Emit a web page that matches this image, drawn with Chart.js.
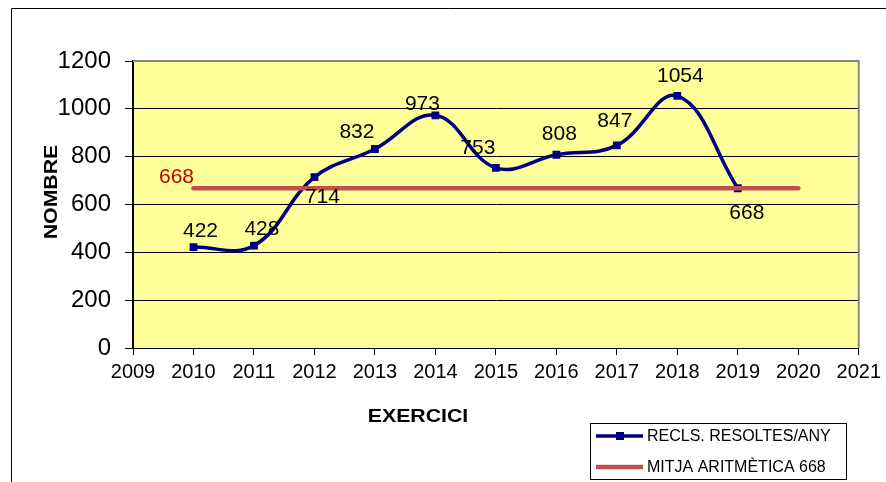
<!DOCTYPE html>
<html>
<head>
<meta charset="utf-8">
<script src="https://cdn.jsdelivr.net/npm/chart.js@4.4.1/dist/chart.umd.min.js"></script>
<style>
  html, body { margin: 0; padding: 0; background: #fff; }
  #wrap { width: 886px; height: 482px; }
</style>
</head>
<body>
<div id="wrap"><canvas id="chart" width="886" height="482"></canvas></div>
<script>
// data
const years = [2010, 2011, 2012, 2013, 2014, 2015, 2016, 2017, 2018, 2019];
const resolved = [422, 428, 714, 832, 973, 753, 808, 847, 1054, 668];
const meanYears = [2010, 2020];
const meanValue = 668;
const seriesNames = ['RECLS. RESOLTES/ANY', 'MITJA ARITMÈTICA 668'];
const xTitle = 'EXERCICI';
const yTitle = 'NOMBRE';

// where each value label sits relative to its point (px)
const labelDx = [7, 8, 8, -18, -13, -18, 3, -2, 3, 9];
const labelDy = [-16, -16, 20, -17, -11, -20, -21, -24, -20, 25];

const BLUE = '#000080';
const RED = '#C0504D';
const FONT = '"Liberation Sans", Arial, sans-serif';

// yellow plot area, frame lines, axis titles, legend
const framePlugin = {
  id: 'frame',
  beforeDraw(chart) {
    const { ctx, chartArea: a } = chart;
    ctx.save();
    ctx.fillStyle = '#fff';
    ctx.fillRect(0, 0, chart.width, chart.height);
    ctx.fillStyle = '#FFFF99';
    ctx.fillRect(a.left, a.top, a.right - a.left, a.bottom - a.top);
    // outer chart border
    ctx.strokeStyle = '#000';
    ctx.lineWidth = 1;
    ctx.beginPath();
    ctx.moveTo(11.5, chart.height);
    ctx.lineTo(11.5, 8.5);
    ctx.lineTo(chart.width, 8.5);
    ctx.stroke();
    ctx.restore();
  },
  afterDraw(chart) {
    const { ctx, chartArea: a } = chart;
    ctx.save();
    ctx.strokeStyle = '#888';
    ctx.lineWidth = 2;
    ctx.beginPath();
    ctx.moveTo(a.left, a.top);
    ctx.lineTo(a.right, a.top);
    ctx.lineTo(a.right, a.bottom);
    ctx.stroke();

    // axis titles (slightly wide, like the original)
    ctx.fillStyle = '#000';
    ctx.font = 'bold 19px ' + FONT;
    ctx.textAlign = 'center';
    ctx.textBaseline = 'middle';
    ctx.translate(418, 417);
    ctx.scale(1.12, 1);
    ctx.fillText(xTitle, 0, 0);
    ctx.setTransform(1, 0, 0, 1, 0, 0);
    ctx.translate(52, 192);
    ctx.rotate(-Math.PI / 2);
    ctx.scale(1.12, 1);
    ctx.fillText(yTitle, 0, 0);
    ctx.setTransform(1, 0, 0, 1, 0, 0);

    // legend box
    const lx = 590, ly = 423, lw = 256, lh = 56;
    ctx.strokeStyle = '#000';
    ctx.lineWidth = 1;
    ctx.strokeRect(lx + 0.5, ly + 0.5, lw, lh);
    const rows = [436, 467];
    chart.data.datasets.forEach((ds, i) => {
      const y = rows[i];
      ctx.strokeStyle = ds.borderColor;
      ctx.lineWidth = i === 0 ? 3.5 : 4.5;
      ctx.beginPath();
      ctx.moveTo(596, y);
      ctx.lineTo(643, y);
      ctx.stroke();
      if (i === 0) {
        ctx.fillStyle = ds.borderColor;
        ctx.fillRect(616, y - 4, 8, 8);
      }
      ctx.fillStyle = '#000';
      ctx.font = '16px ' + FONT;
      ctx.textAlign = 'left';
      ctx.textBaseline = 'middle';
      ctx.fillText(ds.label, 647, y + 1);
    });
    ctx.restore();
  }
};

// value labels next to the points
const labelPlugin = {
  id: 'valueLabels',
  afterDatasetsDraw(chart) {
    const { ctx } = chart;
    ctx.save();
    ctx.textAlign = 'center';
    ctx.textBaseline = 'middle';
    ctx.font = '21px ' + FONT;
    ctx.fillStyle = '#000';
    chart.getDatasetMeta(0).data.forEach((pt, i) => {
      ctx.fillText(String(resolved[i]), pt.x + labelDx[i], pt.y + labelDy[i]);
    });
    const first = chart.getDatasetMeta(1).data[0];
    ctx.fillStyle = '#C00000';
    ctx.fillText(String(meanValue), first.x - 17, first.y - 11);
    ctx.restore();
  }
};

new Chart(document.getElementById('chart'), {
  type: 'line',
  data: {
    datasets: [
      {
        label: seriesNames[0],
        data: years.map((yr, i) => ({ x: yr, y: resolved[i] })),
        borderColor: BLUE,
        backgroundColor: BLUE,
        borderWidth: 3.5,
        tension: 0.4,
        pointStyle: 'rect',
        pointRadius: 5.5,
        pointBorderWidth: 0,
        order: 1
      },
      {
        label: seriesNames[1],
        data: meanYears.map(yr => ({ x: yr, y: meanValue })),
        borderColor: RED,
        backgroundColor: RED,
        borderWidth: 4.5,
        borderCapStyle: 'round',
        tension: 0,
        pointRadius: 0,
        order: 0
      }
    ]
  },
  options: {
    responsive: false,
    animation: false,
    layout: { padding: { left: 0, top: 61, right: 27, bottom: 0 } },
    plugins: {
      legend: { display: false },
      tooltip: { enabled: false }
    },
    scales: {
      x: {
        type: 'linear',
        min: 2009,
        max: 2021,
        afterFit(scale) { scale.height = 134; },
        ticks: {
          stepSize: 1,
          autoSkip: false,
          maxRotation: 0,
          maxTicksLimit: 20,
          padding: 5,
          color: '#000',
          font: { family: FONT, size: 20 },
          callback: v => String(v)
        },
        grid: { drawOnChartArea: false, drawTicks: true, tickLength: 7, tickColor: '#000' },
        border: { display: true, color: '#000', width: 1 }
      },
      y: {
        min: 0,
        max: 1200,
        afterFit(scale) { scale.width = 133; },
        ticks: {
          stepSize: 200,
          padding: 14,
          color: '#000',
          font: { family: FONT, size: 24 },
          callback: v => String(v)
        },
        grid: {
          color: ctx => (ctx.tick && ctx.tick.value === 1200 ? '#888' : '#000'),
          tickColor: '#000',
          tickLength: 8
        },
        border: { display: true, color: '#000', width: 2 }
      }
    }
  },
  plugins: [framePlugin, labelPlugin]
});
</script>
</body>
</html>
